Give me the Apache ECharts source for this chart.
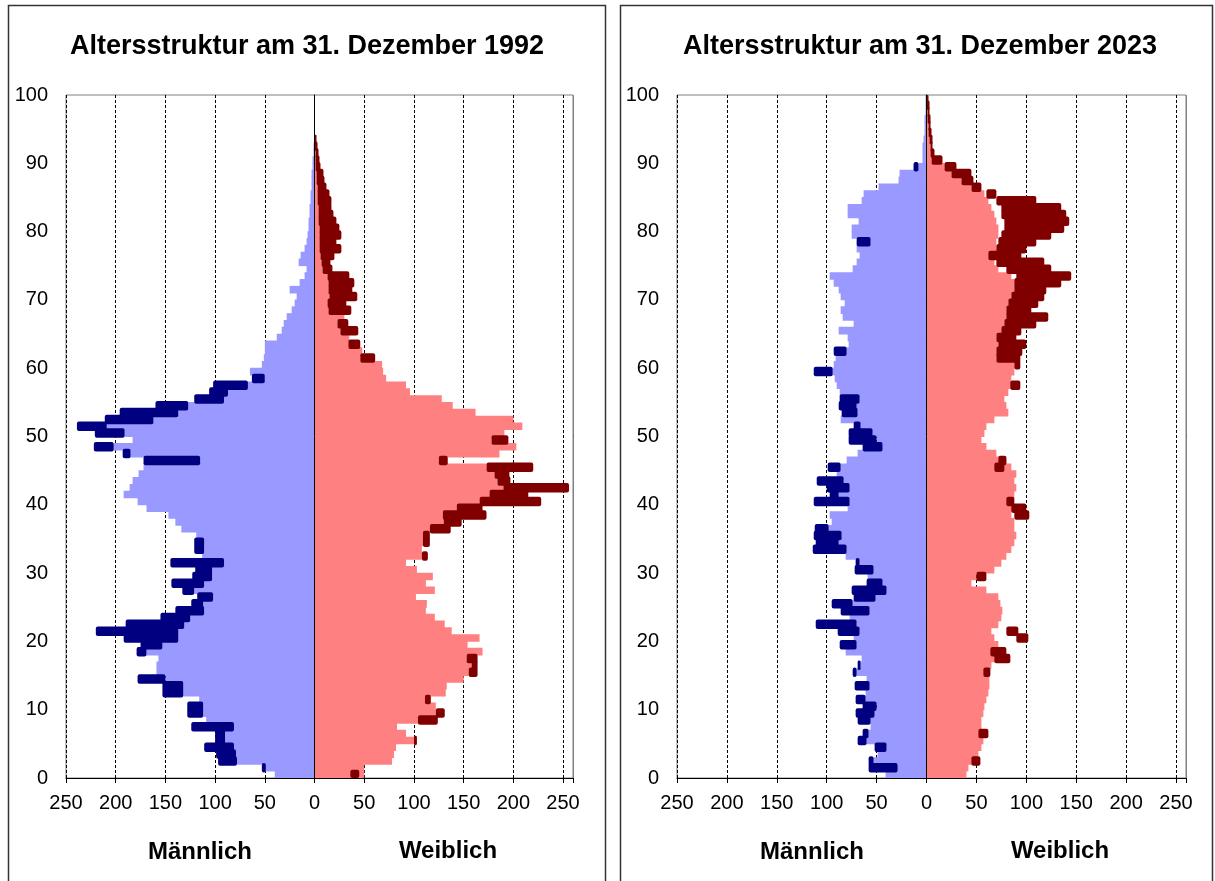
<!DOCTYPE html>
<html><head><meta charset="utf-8">
<script src="https://cdn.jsdelivr.net/npm/echarts@6/dist/echarts.min.js"></script>
<style>html,body{margin:0;padding:0;background:#fff}#c{width:1215px;height:881px}</style>
</head><body><div id="c"></div>
<script>
// ---------- DATA ----------
const ageLabels = [];
for (let i = 0; i < 100; i++) ageLabels.push(String(i));
const titles = ['Altersstruktur am 31. Dezember 1992', 'Altersstruktur am 31. Dezember 2023'];
const sexLabels = ['Männlich', 'Weiblich'];

// light bars (ages 0..99)
const male1992 = [40,50,78,80,82,100,95,82,109,112, 112,116,132,132,150,159,159,157,169,153,
  137,137,131,125,111,112,102,121,111,103, 103,91,113,111,111,119,134,140,147,169,
  178,192,186,183,177,172,115,185,202,183, 191,209,162,137,127,91,87,67,50,65,
  53,51,50,50,38,33,31,28,23,20, 18,25,15,10,8,16,14,10,8,7,
  6,6,5,5,4,4,3,3,3,2, 2,1,1,0,0,0,0,0,0,0];
const female1992 = [50,50,78,80,82,100,92,83,104,122, 122,111,132,133,150,155,158,153,169,154,
  166,138,131,121,112,113,102,121,112,119, 103,92,108,108,109,109,116,130,129,143,
  166,176,190,184,181,173,125,186,203,178, 191,209,200,162,139,128,96,92,72,69,
  68,46,48,34,35,26,23,30,14,13, 15,14,14,13,8,7,6,5,5,5,
  5,4,4,4,3,3,3,2,2,1, 1,1,0,0,0,0,0,0,0,0];
// dark segments: [age, from, to]
const maleDark1992 = [[1,49,53],[2,78,97],[3,79,99],[4,81,111],[5,90,100],[6,90,100],[7,81,124],[9,112,128],[10,112,128],
  [12,132,153],[13,132,153],[14,150,178],[18,169,179],[19,153,175],[20,137,192],[21,137,220],[22,131,190],[23,125,155],
  [24,111,140],[25,112,124],[26,102,118],[27,121,133],[28,111,144],[29,103,123],[30,103,120],[31,91,145],[33,111,121],
  [34,111,121],[46,115,172],[47,185,193],[48,202,222],[50,191,221],[51,209,239],[52,162,211],[53,137,196],[54,127,160],
  [55,91,121],[56,87,106],[57,67,102],[58,50,63]];
const femaleDark1992 = [[0,36,45],[5,100,103],[8,104,124],[9,122,131],[11,111,117],[15,155,164],[16,158,164],[17,153,164],
  [32,108,114],[34,109,116],[35,109,116],[36,116,137],[37,130,148],[38,129,173],[39,143,169],[40,166,228],[41,176,215],
  [42,190,256],[43,184,197],[44,181,196],[45,173,220],[46,125,134],[49,178,195],[61,46,61],[63,34,46],[65,26,44],
  [66,23,34],[68,14,37],[69,13,32],[70,15,43],[71,14,38],[72,14,40],[73,13,35],[74,8,18],[75,7,16],[76,6,20],[77,5,27],
  [78,5,22],[79,5,27],[80,5,25],[81,4,22],[82,4,19],[83,4,17],[84,3,17],[85,3,15],[86,3,12],[87,2,10],[88,2,9],
  [89,1,6],[90,1,5],[91,1,4],[92,0,3],[93,0,2]];

const male2023 = [41,40,53,49,40,60,58,56,56,52, 50,61,61,57,60,70,66,65,81,70,
  73,67,70,77,57,74,51,40,44,59, 53,67,81,80,88,85,98,95,97,79,
  77,88,77,83,90,86,80,69,44,50, 54,66,86,69,70,67,87,90,92,94,
  93,91,80,78,79,88,73,84,86,82, 86,88,93,97,74,70,67,70,56,75,
  75,68,79,79,65,63,48,28,27,8, 4,4,4,3,2,2,2,1,1,1];
const female2023 = [40,42,47,52,55,57,60,55,55,57, 58,60,62,63,63,62,65,70,74,72,
  68,65,72,75,76,74,72,60,45,50, 68,75,80,85,88,90,88,88,85,86,
  84,88,90,88,90,85,80,70,60,55, 58,60,68,82,80,78,82,85,85,88,
  88,70,70,72,70,75,78,80,80,82, 85,88,88,85,72,68,66,70,70,72,
  72,70,68,65,62,58,45,35,25,18, 5,4,4,3,2,2,1,1,0,0];
const maleDark2023 = [[1,29,58],[2,53,58],[4,40,52],[5,60,69],[6,58,64],[8,56,69],[9,52,71],[10,50,64],[11,61,71],
  [13,57,72],[15,70,74],[16,66,69],[19,70,87],[21,67,89],[22,70,111],[24,57,86],[25,74,95],[26,51,73],[27,40,75],
  [28,44,60],[30,53,72],[31,67,71],[33,80,114],[34,88,111],[35,85,113],[36,98,112],[40,77,113],[41,88,97],[42,77,100],
  [43,83,110],[45,86,99],[48,44,64],[49,50,78],[50,54,78],[51,66,73],[53,69,85],[54,70,88],[55,67,87],[59,94,113],
  [62,80,93],[78,56,70],[89,8,13]];
const femaleDark2023 = [[2,45,54],[6,52,62],[15,57,64],[17,68,84],[18,64,80],[20,90,102],[21,80,92],[29,50,60],
  [38,88,103],[39,85,100],[40,80,88],[45,68,78],[46,72,80],[57,84,94],[60,88,94],[61,70,94],[62,70,96],[63,72,100],[64,70,90],
  [65,75,95],[66,78,110],[67,80,122],[68,80,105],[69,82,112],[70,85,118],[71,88,120],[72,88,135],[73,90,145],
  [74,80,125],[75,70,118],[76,62,95],[77,70,100],[78,72,110],[79,75,125],[80,78,138],[81,78,143],[82,75,140],
  [83,75,135],[84,70,110],[85,60,70],[86,45,55],[87,35,47],[88,25,45],[89,18,30],[90,5,16],[91,4,8],[92,4,6],
  [93,3,6],[94,2,5],[95,2,4],[96,1,4],[97,1,3],[98,0,3],[99,0,2]];

// ---------- BUILD ----------
const FONT = '"Liberation Sans", Arial, sans-serif';
const C = {ml:'#9999FF', md:'#000080', fl:'#FF8080', fd:'#800000'};
function light(arr, sign){ return arr.map(v => v > 0 ? sign*v : '-'); }
function segBase(tr, sign){ const a = ageLabels.map(()=>'-'); tr.forEach(t => a[t[0]] = sign*t[1]); return a; }
function segLen(tr, sign){ const a = ageLabels.map(()=>'-'); tr.forEach(t => a[t[0]] = sign*(t[2]-t[1])); return a; }

const panels = [
  {left:66, width:507, m:male1992, f:female1992, md:maleDark1992, fd:femaleDark1992},
  {left:677, width:509, m:male2023, f:female2023, md:maleDark2023, fd:femaleDark2023}
];
const grid=[], xAxis=[], yAxis=[], series=[];
panels.forEach((p,i)=>{
  grid.push({left:p.left, top:95, width:p.width, height:683, show:true, borderColor:'#808080', borderWidth:1, backgroundColor:'#fff'});
  xAxis.push({type:'value', gridIndex:i, min:-250, max:260, interval:50,
    axisLine:{show:true, onZero:false, lineStyle:{color:'#000', width:1}},
    axisTick:{show:true, length:5, lineStyle:{color:'#000'}},
    axisLabel:{fontSize:20, color:'#000', fontFamily:FONT, margin:15,
      formatter:v => v > 250 ? '' : String(Math.abs(v))},
    splitLine:{show:true, lineStyle:{color:'#000', width:1, type:[3,2]}}});
  // 3i: category axis for light bars (also draws the zero line)
  yAxis.push({type:'category', gridIndex:i, data:ageLabels, z:10,
    axisLine:{show:true, onZero:true, lineStyle:{color:'#000', width:1}},
    axisTick:{show:false}, axisLabel:{show:false}, splitLine:{show:false}});
  // 3i+1: value axis for the age tick labels
  yAxis.push({type:'value', gridIndex:i, min:0, max:100, interval:10, position:'left',
    axisLine:{show:false, onZero:false}, axisTick:{show:false}, splitLine:{show:false},
    axisLabel:{fontSize:20, color:'#000', fontFamily:FONT, margin:18, showMinLabel:true, showMaxLabel:true}});
  // 3i+2: hidden category axis for the dark segments
  yAxis.push({type:'category', gridIndex:i, data:ageLabels, show:false,
    axisLine:{show:false}, axisTick:{show:false}, axisLabel:{show:false}, splitLine:{show:false}});
  const lc = {type:'bar', xAxisIndex:i, yAxisIndex:3*i, barWidth:7.6, barGap:'-100%', silent:true, animation:false};
  const dc = {type:'bar', xAxisIndex:i, yAxisIndex:3*i+2, barWidth:9.5, barGap:'-100%', silent:true, animation:false};
  series.push(Object.assign({}, lc, {data:light(p.m,-1), itemStyle:{color:C.ml}}));
  series.push(Object.assign({}, lc, {data:light(p.f,1), itemStyle:{color:C.fl}}));
  series.push(Object.assign({}, dc, {stack:'ms'+i, data:segBase(p.md,-1), itemStyle:{color:'rgba(0,0,0,0)'}}));
  series.push(Object.assign({}, dc, {stack:'ms'+i, data:segLen(p.md,-1), itemStyle:{color:C.md, borderRadius:2}}));
  series.push(Object.assign({}, dc, {stack:'fs'+i, data:segBase(p.fd,1), itemStyle:{color:'rgba(0,0,0,0)'}}));
  series.push(Object.assign({}, dc, {stack:'fs'+i, data:segLen(p.fd,1), itemStyle:{color:C.fd, borderRadius:2}}));
});

const graphic = [
  {type:'rect', shape:{x:8.5, y:5.5, width:597, height:900}, style:{fill:'none', stroke:'#333', lineWidth:1.5}, z:-10},
  {type:'rect', shape:{x:620.5, y:5.5, width:592, height:900}, style:{fill:'none', stroke:'#333', lineWidth:1.5}, z:-10},
  {type:'line', shape:{x1:573.5, y1:95, x2:573.5, y2:778}, style:{stroke:'#808080', lineWidth:1}, z:100},
  {type:'line', shape:{x1:1186.5, y1:95, x2:1186.5, y2:778}, style:{stroke:'#808080', lineWidth:1}, z:100},
  {type:'text', x:307, y:47, style:{text:titles[0], font:'bold 27px '+FONT, fill:'#000', textAlign:'center', textVerticalAlign:'middle'}, z:100},
  {type:'text', x:920, y:47, style:{text:titles[1], font:'bold 27px '+FONT, fill:'#000', textAlign:'center', textVerticalAlign:'middle'}, z:100},
  {type:'text', x:200, y:852, style:{text:sexLabels[0], font:'bold 24px '+FONT, fill:'#000', textAlign:'center', textVerticalAlign:'middle'}, z:100},
  {type:'text', x:448, y:851, style:{text:sexLabels[1], font:'bold 24px '+FONT, fill:'#000', textAlign:'center', textVerticalAlign:'middle'}, z:100},
  {type:'text', x:812, y:852, style:{text:sexLabels[0], font:'bold 24px '+FONT, fill:'#000', textAlign:'center', textVerticalAlign:'middle'}, z:100},
  {type:'text', x:1060, y:851, style:{text:sexLabels[1], font:'bold 24px '+FONT, fill:'#000', textAlign:'center', textVerticalAlign:'middle'}, z:100}
];

const chart = echarts.init(document.getElementById('c'), null, {renderer:'canvas'});
chart.setOption({animation:false, backgroundColor:'#fff', grid, xAxis, yAxis, series, graphic});
</script></body></html>
